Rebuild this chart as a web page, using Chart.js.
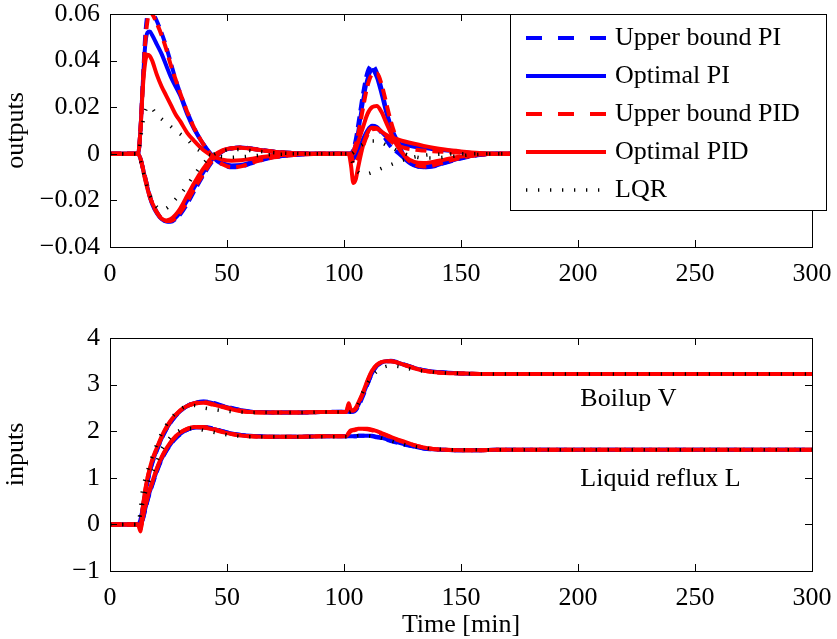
<!DOCTYPE html>
<html>
<head>
<meta charset="utf-8">
<script src="https://cdn.jsdelivr.net/npm/chart.js@4.4.0/dist/chart.umd.min.js"></script>
<style>
  html, body { margin: 0; padding: 0; background: #fff; }
  #wrap { position: relative; width: 837px; height: 639px; }
  canvas { position: absolute; left: 0; }
  #top { top: 0; }
  #bottom { top: 300px; }
</style>
</head>
<body>
<div id="wrap">
  <canvas id="top" width="837" height="300"></canvas>
  <canvas id="bottom" width="837" height="339"></canvas>
</div>
<script>
// Time grid [min]
const time = [
  0, 12, 13, 14, 15, 16, 17, 18, 20, 22,
  24, 26, 28, 30, 33, 36, 40, 44, 48, 52,
  56, 60, 65, 70, 80, 90, 101, 102, 103, 104,
  105, 106, 108, 110, 112, 114, 116, 118, 120, 123,
  126, 130, 134, 138, 143, 150, 158, 165, 180, 300
];

// Outputs (top plot)
const ubPI_out1 = [
  0, 0, 0.010, 0.030, 0.050, 0.060, 0.063, 0.061, 0.057, 0.052,
  0.046, 0.039, 0.032, 0.026, 0.018, 0.011, 0.004, -0.0015, -0.0045, -0.0058,
  -0.0055, -0.0042, -0.0027, -0.0015, -0.0004, 0, 0, 0, 0, 0.002,
  0.006, 0.012, 0.025, 0.035, 0.038, 0.035, 0.028, 0.019, 0.012, 0.005,
  -0.0015, -0.0048, -0.0058, -0.0055, -0.004, -0.002, -0.0005, 0, 0, 0
];
const ubPI_out2 = [
  0, 0, -0.002, -0.006, -0.010, -0.014, -0.018, -0.021, -0.025, -0.0278,
  -0.029, -0.0292, -0.028, -0.026, -0.0215, -0.016, -0.009, -0.003, 0.001, 0.0023,
  0.0027, 0.0024, 0.0016, 0.001, 0.0003, 0, 0, 0, 0, -0.003,
  -0.003, -0.001, 0.004, 0.009, 0.0115, 0.011, 0.009, 0.006, 0.003, 0.0005,
  -0.002, -0.0045, -0.0055, -0.005, -0.0035, -0.0017, -0.0004, 0, 0, 0
];
const optPI_out1 = [
  0, 0, 0.010, 0.030, 0.046, 0.052, 0.0525, 0.051, 0.047, 0.043,
  0.038, 0.033, 0.029, 0.025, 0.017, 0.0105, 0.004, -0.001, -0.004, -0.005,
  -0.0048, -0.0038, -0.0025, -0.0014, -0.0004, 0, 0, 0, 0, 0.001,
  0.004, 0.009, 0.022, 0.032, 0.036, 0.033, 0.026, 0.018, 0.011, 0.004,
  -0.002, -0.005, -0.0058, -0.0053, -0.0038, -0.0018, -0.0004, 0, 0, 0
];
const optPI_out2 = [
  0, 0, -0.002, -0.006, -0.0105, -0.0145, -0.0185, -0.0215, -0.0255, -0.028,
  -0.029, -0.0288, -0.0275, -0.025, -0.020, -0.0145, -0.0078, -0.002, 0.0012, 0.0024,
  0.0027, 0.0023, 0.0015, 0.0009, 0.0002, 0, 0, 0, 0, -0.002,
  -0.001, 0.001, 0.006, 0.010, 0.012, 0.0115, 0.0095, 0.0075, 0.006, 0.0045,
  0.0038, 0.003, 0.0025, 0.002, 0.0015, 0.0008, 0.0002, 0, 0, 0
];
const ubPID_out1 = [
  0, 0, 0.010, 0.029, 0.047, 0.057, 0.061, 0.060, 0.056, 0.051,
  0.045, 0.038, 0.032, 0.026, 0.018, 0.011, 0.004, -0.0015, -0.0045, -0.0057,
  -0.0054, -0.0041, -0.0026, -0.0015, -0.0004, 0, 0, 0, 0, 0.001,
  0.004, 0.008, 0.019, 0.029, 0.034, 0.0345, 0.030, 0.022, 0.014, 0.005,
  -0.001, -0.0045, -0.0055, -0.005, -0.0035, -0.0018, -0.0004, 0, 0, 0
];
const ubPID_out2 = [
  0, 0, -0.002, -0.006, -0.010, -0.014, -0.018, -0.0212, -0.0252, -0.0278,
  -0.0288, -0.0288, -0.0275, -0.0252, -0.0205, -0.015, -0.0085, -0.0025, 0.0011, 0.0023,
  0.0027, 0.0023, 0.0015, 0.0009, 0.0002, 0, 0, 0, 0, -0.004,
  -0.004, -0.002, 0.003, 0.008, 0.0105, 0.0108, 0.0095, 0.0075, 0.0055, 0.0035,
  0.0025, 0.0018, 0.0014, 0.0011, 0.0008, 0.0004, 0.0001, 0, 0, 0
];
const optPID_out1 = [
  0, 0, 0.010, 0.028, 0.039, 0.0425, 0.042, 0.040, 0.034, 0.029,
  0.025, 0.021, 0.017, 0.014, 0.009, 0.0055, 0.0015, -0.001, -0.0025, -0.003,
  -0.0028, -0.0022, -0.0014, -0.0008, -0.0002, 0, 0, 0, 0, 0,
  0.002, 0.005, 0.011, 0.017, 0.020, 0.0205, 0.018, 0.0135, 0.009, 0.003,
  -0.001, -0.0035, -0.004, -0.0035, -0.0025, -0.0012, -0.0003, 0, 0, 0
];
const optPID_out2 = [
  0, 0, -0.002, -0.006, -0.011, -0.015, -0.0185, -0.021, -0.025, -0.0278,
  -0.0286, -0.028, -0.0262, -0.0235, -0.018, -0.0125, -0.0062, -0.001, 0.0015, 0.0024,
  0.0026, 0.0022, 0.0015, 0.0009, 0.0002, 0, 0, 0, -0.005, -0.0125,
  -0.011, -0.006, 0.003, 0.009, 0.0112, 0.011, 0.0095, 0.0082, 0.0072, 0.0062,
  0.0053, 0.0043, 0.0034, 0.0026, 0.0018, 0.001, 0.0003, 0, 0, 0
];
const lqr_out1 = [
  0, 0, 0.006, 0.013, 0.018, 0.020, 0.0205, 0.0195, 0.0168, 0.015,
  0.0134, 0.0117, 0.010, 0.0085, 0.0062, 0.003, 0.0005, -0.0008, -0.0013, -0.0015,
  -0.0013, -0.001, -0.0006, -0.0003, 0, 0, 0, 0, 0, 0.0005,
  0.0015, 0.0025, 0.004, 0.005, 0.0055, 0.0055, 0.0048, 0.0038, 0.0028, 0.0013,
  0, -0.0012, -0.0018, -0.0018, -0.0014, -0.0008, -0.0002, 0, 0, 0
];
const lqr_out2 = [
  0, 0, -0.003, -0.007, -0.011, -0.0145, -0.0175, -0.0198, -0.0228, -0.024,
  -0.0235, -0.0218, -0.0195, -0.0175, -0.0135, -0.009, -0.004, -0.0005, 0.0012, 0.0018,
  0.0018, 0.0014, 0.0009, 0.0005, 0.0001, 0, 0, 0, -0.002, -0.0045,
  -0.0065, -0.0078, -0.0087, -0.0086, -0.008, -0.0072, -0.0063, -0.0055, -0.0047, -0.0035,
  -0.0025, -0.0014, -0.0007, -0.0003, -0.0001, 0, 0, 0, 0, 0
];

// Inputs (bottom plot): boilup V and reflux L
const ubPI_V = [
  0, 0, 0.08, 0.33, 0.63, 0.9, 1.12, 1.3, 1.58, 1.83,
  2.03, 2.19, 2.32, 2.43, 2.54, 2.61, 2.64, 2.61, 2.55, 2.5,
  2.45, 2.42, 2.41, 2.40, 2.40, 2.41, 2.42, 2.42, 2.42, 2.42,
  2.45, 2.52, 2.74, 3.0, 3.24, 3.4, 3.47, 3.5, 3.51, 3.48,
  3.43, 3.36, 3.31, 3.28, 3.26, 3.24, 3.23, 3.23, 3.23, 3.23
];
const optPI_V = [
  0, 0, 0.1, 0.35, 0.65, 0.92, 1.14, 1.32, 1.6, 1.84,
  2.04, 2.2, 2.33, 2.43, 2.54, 2.6, 2.63, 2.6, 2.54, 2.49,
  2.45, 2.42, 2.41, 2.40, 2.40, 2.41, 2.42, 2.42, 2.42, 2.43,
  2.47, 2.55, 2.77, 3.02, 3.25, 3.4, 3.47, 3.5, 3.5, 3.47,
  3.42, 3.36, 3.31, 3.28, 3.26, 3.24, 3.23, 3.23, 3.23, 3.23
];
const ubPID_V = [
  0, 0, -0.1, 0.35, 0.7, 0.98, 1.18, 1.36, 1.62, 1.86,
  2.06, 2.22, 2.34, 2.44, 2.54, 2.6, 2.62, 2.58, 2.53, 2.48,
  2.44, 2.41, 2.40, 2.40, 2.40, 2.41, 2.42, 2.55, 2.45, 2.44,
  2.48, 2.57, 2.80, 3.06, 3.29, 3.42, 3.48, 3.50, 3.50, 3.47,
  3.42, 3.36, 3.30, 3.27, 3.25, 3.24, 3.23, 3.23, 3.23, 3.23
];
const optPID_V = [
  0, 0, -0.15, 0.35, 0.72, 1.0, 1.2, 1.38, 1.64, 1.88,
  2.08, 2.23, 2.35, 2.45, 2.54, 2.59, 2.61, 2.57, 2.52, 2.47,
  2.43, 2.41, 2.40, 2.40, 2.40, 2.41, 2.42, 2.60, 2.45, 2.45,
  2.50, 2.60, 2.82, 3.08, 3.30, 3.42, 3.48, 3.50, 3.50, 3.47,
  3.42, 3.35, 3.30, 3.27, 3.25, 3.24, 3.23, 3.23, 3.23, 3.23
];
const lqr_V = [
  0, 0, 0.35, 0.78, 0.98, 1.15, 1.3, 1.45, 1.72, 1.95,
  2.13, 2.28, 2.38, 2.47, 2.54, 2.55, 2.5, 2.47, 2.44, 2.42,
  2.41, 2.40, 2.40, 2.40, 2.40, 2.41, 2.41, 2.41, 2.42, 2.45,
  2.5, 2.58, 2.83, 3.02, 3.18, 3.28, 3.35, 3.39, 3.4, 3.39,
  3.36, 3.32, 3.29, 3.27, 3.25, 3.24, 3.23, 3.23, 3.23, 3.23
];
const ubPI_L = [
  0, 0, 0.01, 0.1, 0.3, 0.5, 0.68, 0.83, 1.13, 1.38,
  1.57, 1.72, 1.84, 1.93, 2.03, 2.08, 2.09, 2.06, 2.0, 1.95,
  1.92, 1.9, 1.89, 1.88, 1.88, 1.89, 1.89, 1.89, 1.89, 1.89,
  1.89, 1.9, 1.9, 1.9, 1.89, 1.87, 1.85, 1.82, 1.79, 1.75,
  1.71, 1.67, 1.63, 1.61, 1.6, 1.59, 1.59, 1.6, 1.6, 1.6
];
const optPI_L = [
  0, 0, 0.02, 0.12, 0.32, 0.52, 0.7, 0.85, 1.15, 1.4,
  1.58, 1.73, 1.85, 1.94, 2.03, 2.08, 2.08, 2.05, 2.0, 1.95,
  1.92, 1.9, 1.89, 1.88, 1.88, 1.89, 1.89, 1.89, 1.89, 1.89,
  1.89, 1.9, 1.9, 1.9, 1.9, 1.88, 1.86, 1.83, 1.8, 1.76,
  1.72, 1.67, 1.63, 1.61, 1.6, 1.59, 1.59, 1.6, 1.6, 1.6
];
const ubPID_L = [
  0, 0, -0.05, 0.15, 0.37, 0.57, 0.74, 0.89, 1.18, 1.42,
  1.61, 1.76, 1.88, 1.97, 2.05, 2.09, 2.09, 2.05, 1.99, 1.94,
  1.91, 1.89, 1.88, 1.88, 1.88, 1.89, 1.89, 1.95, 2.0, 2.02,
  2.03, 2.04, 2.05, 2.04, 2.02, 1.99, 1.95, 1.91, 1.87, 1.81,
  1.76, 1.7, 1.65, 1.62, 1.6, 1.59, 1.59, 1.6, 1.6, 1.6
];
const optPID_L = [
  0, 0, -0.1, 0.15, 0.38, 0.58, 0.75, 0.9, 1.2, 1.44,
  1.62, 1.77, 1.89, 1.97, 2.05, 2.09, 2.08, 2.04, 1.98, 1.94,
  1.91, 1.89, 1.88, 1.88, 1.88, 1.89, 1.89, 1.97, 2.02, 2.03,
  2.04, 2.05, 2.05, 2.05, 2.03, 2.0, 1.96, 1.92, 1.88, 1.82,
  1.77, 1.7, 1.65, 1.62, 1.6, 1.59, 1.59, 1.6, 1.6, 1.6
];
const lqr_L = [
  0, 0, 0.2, 0.45, 0.65, 0.82, 0.98, 1.1, 1.35, 1.6,
  1.76, 1.88, 1.96, 2.02, 2.06, 2.06, 2.02, 1.98, 1.94, 1.91,
  1.89, 1.88, 1.88, 1.88, 1.88, 1.88, 1.88, 1.88, 1.88, 1.89,
  1.89, 1.9, 1.9, 1.9, 1.89, 1.87, 1.85, 1.82, 1.79, 1.75,
  1.71, 1.67, 1.64, 1.62, 1.61, 1.6, 1.6, 1.6, 1.6, 1.6
];

// Axes
const xTicks = { min: 0, max: 300, step: 50 };
const outTicks = { min: -0.04, max: 0.06, step: 0.02 };
const inTicks = { min: -1, max: 4, step: 1 };

// Legend and text labels
const legendKeys = ['ubPI', 'optPI', 'ubPID', 'optPID', 'lqr'];
const legendLabels = ['Upper bound PI', 'Optimal PI', 'Upper bound PID', 'Optimal PID', 'LQR'];
const noteText = ['Boilup V', 'Liquid reflux L'];
const noteX = [201, 201];
const noteY = [2.54, 0.82];

// Line styles (lower order is drawn on top)
const STYLE = {
  ubPI:   { color: '#0000ff', dash: [11, 6], width: 4, order: 4 },
  optPI:  { color: '#0000ff', dash: [], width: 4, order: 3 },
  ubPID:  { color: '#ff0000', dash: [11, 6], width: 4, order: 2 },
  optPID: { color: '#ff0000', dash: [], width: 4, order: 1 },
  lqr:    { color: '#000000', dash: [1.3, 10.7], width: 3.5, order: 0 }
};
const LEGEND_DASH = { ubPI: [16, 16], ubPID: [16, 16], lqr: [1.3, 10.7] };
const FONT = "'Liberation Serif', 'Times New Roman', serif";

Chart.defaults.font.family = FONT;
Chart.defaults.font.size = 26;
Chart.defaults.color = '#000';

function line(values, key) {
  const s = STYLE[key];
  return {
    data: time.map((t, i) => ({ x: t, y: values[i] })),
    borderColor: s.color,
    borderWidth: s.width,
    borderDash: s.dash,
    borderCapStyle: 'butt',
    order: s.order,
    pointRadius: 0,
    cubicInterpolationMode: 'monotone',
    fill: false,
    clip: 0
  };
}

function fmtOut(v) {
  if (Math.abs(v) < 1e-9) return '0';
  const s = Math.abs(v).toFixed(2);
  return v < 0 ? '\u2212' + s : s;
}
function fmtIn(v) {
  return v < 0 ? '\u2212' + Math.abs(v) : String(v);
}

function xAxis(height, title) {
  return {
    type: 'linear', min: xTicks.min, max: xTicks.max,
    grid: { display: false, drawTicks: false },
    border: { display: false },
    ticks: { stepSize: xTicks.step, padding: 14, maxRotation: 0, autoSkip: false, font: { lineHeight: 1 } },
    title: title
      ? { display: true, text: title, font: { lineHeight: 1 }, padding: { top: 1, bottom: 1 } }
      : { display: false },
    afterFit(s) {
      s.height = height;
      s.paddingLeft = 0;
      s.paddingRight = 0;
    }
  };
}

function yAxis(t, title, fmt) {
  return {
    type: 'linear', min: t.min, max: t.max,
    grid: { display: false, drawTicks: false },
    border: { display: false },
    ticks: { stepSize: t.step, padding: 10, autoSkip: false, callback: fmt, font: { lineHeight: 1 } },
    title: { display: true, text: title, font: { lineHeight: 1 }, padding: { top: 3, bottom: 0 } },
    afterFit(s) {
      s.width = 110;
      s.paddingTop = 0;
      s.paddingBottom = 0;
    }
  };
}

// Box around the axes with inward ticks on all sides
const framePlugin = {
  id: 'frame',
  afterDatasetsDraw(chart) {
    const { ctx, chartArea: a, scales: { x, y } } = chart;
    const tl = 7;
    ctx.save();
    ctx.strokeStyle = '#000';
    ctx.lineWidth = 1;
    ctx.setLineDash([]);
    ctx.strokeRect(a.left + 0.5, a.top + 0.5, a.right - a.left, a.bottom - a.top);
    ctx.beginPath();
    x.ticks.forEach(t => {
      const px = Math.round(x.getPixelForValue(t.value)) + 0.5;
      ctx.moveTo(px, a.bottom); ctx.lineTo(px, a.bottom - tl);
      ctx.moveTo(px, a.top); ctx.lineTo(px, a.top + tl);
    });
    y.ticks.forEach(t => {
      const py = Math.round(y.getPixelForValue(t.value)) + 0.5;
      ctx.moveTo(a.left, py); ctx.lineTo(a.left + tl, py);
      ctx.moveTo(a.right, py); ctx.lineTo(a.right - tl, py);
    });
    ctx.stroke();
    ctx.restore();
  }
};

// Legend box in the top plot
const legendPlugin = {
  id: 'legendBox',
  afterDraw(chart) {
    const ctx = chart.ctx;
    const bx = 510, by = 14, bw = 316, bh = 196;
    ctx.save();
    ctx.fillStyle = '#fff';
    ctx.fillRect(bx, by, bw, bh);
    ctx.strokeStyle = '#000';
    ctx.lineWidth = 1;
    ctx.strokeRect(bx + 0.5, by + 0.5, bw, bh);
    ctx.font = '26px ' + FONT;
    ctx.textBaseline = 'middle';
    ctx.fillStyle = '#000';
    legendKeys.forEach((key, i) => {
      const s = STYLE[key];
      const ry = 38 + i * 38;
      ctx.beginPath();
      ctx.strokeStyle = s.color;
      ctx.lineWidth = s.width;
      ctx.lineCap = 'butt';
      ctx.setLineDash(LEGEND_DASH[key] || []);
      ctx.moveTo(526, ry);
      ctx.lineTo(606, ry);
      ctx.stroke();
      ctx.setLineDash([]);
      ctx.fillText(legendLabels[i], 615, ry);
    });
    ctx.restore();
  }
};

// Curve labels in the bottom plot
const notePlugin = {
  id: 'notes',
  afterDatasetsDraw(chart) {
    const { ctx, scales: { x, y } } = chart;
    ctx.save();
    ctx.font = '26px ' + FONT;
    ctx.fillStyle = '#000';
    ctx.textBaseline = 'alphabetic';
    noteText.forEach((t, i) => ctx.fillText(t, x.getPixelForValue(noteX[i]), y.getPixelForValue(noteY[i])));
    ctx.restore();
  }
};

const common = {
  responsive: false,
  animation: false,
  events: [],
  plugins: { legend: { display: false }, tooltip: { enabled: false } }
};

new Chart(document.getElementById('top'), {
  type: 'line',
  data: {
    datasets: [
      line(ubPI_out1, 'ubPI'), line(ubPI_out2, 'ubPI'),
      line(optPI_out1, 'optPI'), line(optPI_out2, 'optPI'),
      line(ubPID_out1, 'ubPID'), line(ubPID_out2, 'ubPID'),
      line(optPID_out1, 'optPID'), line(optPID_out2, 'optPID'),
      line(lqr_out1, 'lqr'), line(lqr_out2, 'lqr')
    ]
  },
  options: {
    ...common,
    layout: { padding: { top: 14, right: 25, left: 0, bottom: 0 } },
    scales: { x: xAxis(53, null), y: yAxis(outTicks, 'outputs', fmtOut) }
  },
  plugins: [framePlugin, legendPlugin]
});

new Chart(document.getElementById('bottom'), {
  type: 'line',
  data: {
    datasets: [
      line(ubPI_V, 'ubPI'), line(ubPI_L, 'ubPI'),
      line(optPI_V, 'optPI'), line(optPI_L, 'optPI'),
      line(ubPID_V, 'ubPID'), line(ubPID_L, 'ubPID'),
      line(optPID_V, 'optPID'), line(optPID_L, 'optPID'),
      line(lqr_V, 'lqr'), line(lqr_L, 'lqr')
    ]
  },
  options: {
    ...common,
    layout: { padding: { top: 38, right: 25, left: 0, bottom: 0 } },
    scales: { x: xAxis(68, 'Time [min]'), y: yAxis(inTicks, 'inputs', fmtIn) }
  },
  plugins: [framePlugin, notePlugin]
});
</script>
</body>
</html>
